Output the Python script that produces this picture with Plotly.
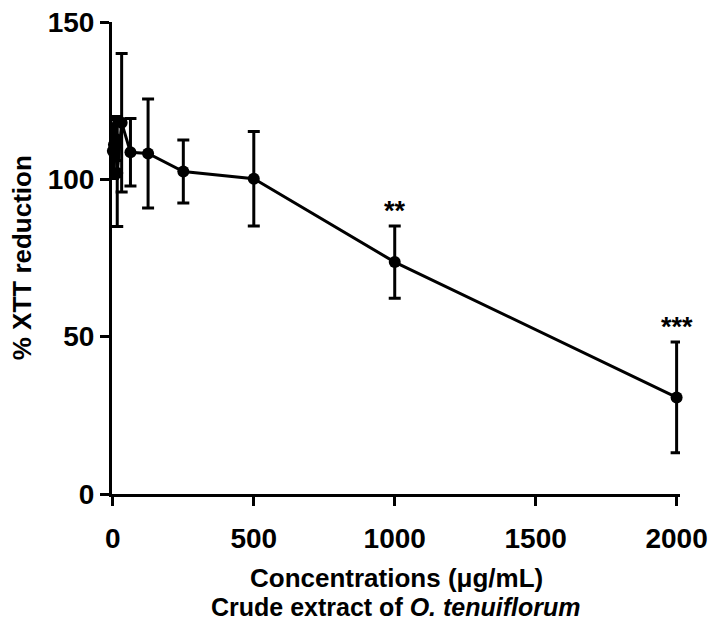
import plotly.graph_objects as go

conc = [0, 3.9, 7.8, 15.6, 31.25, 62.5, 125, 250, 500, 1000, 2000]
mean = [109, 111, 113, 102, 118, 108.6, 108.2, 102.5, 100.2, 73.7, 30.7]
err = [8.7, 8, 7, 17, 22, 10.7, 17.3, 10, 15, 11.5, 17.6]

sig_x = [1000, 2000]
sig_y = [85.2, 48.3]
sig_lbl = ["**", "***"]

x_ticks = [0, 500, 1000, 1500, 2000]
y_ticks = [0, 50, 100, 150]

FONT = "Liberation Sans, Arial, sans-serif"

fig = go.Figure()
fig.add_trace(go.Scatter(
    x=conc, y=mean, mode="lines+markers",
    line=dict(color="black", width=3),
    marker=dict(color="black", size=12),
    error_y=dict(type="data", array=err, visible=True, color="black",
                 thickness=3, width=6),
    cliponaxis=False, showlegend=False,
))

for x, y, t in zip(sig_x, sig_y, sig_lbl):
    fig.add_annotation(x=x, y=y, text=f"<b>{t}</b>", showarrow=False,
                       yshift=15, font=dict(size=27, color="black", family=FONT))

fig.add_annotation(xref="paper", yref="paper", x=0.5, y=-0.178,
                   yanchor="middle",
                   text="<b>Concentrations (μg/mL)</b>", showarrow=False,
                   font=dict(size=26, color="black", family=FONT))
fig.add_annotation(xref="paper", yref="paper", x=0.5, y=-0.239,
                   yanchor="middle",
                   text="<b>Crude extract of <i>O. tenuiflorum</i></b>", showarrow=False,
                   font=dict(size=25, color="black", family=FONT))
fig.add_annotation(xref="paper", yref="paper", x=-0.158, y=0.5,
                   xanchor="center", yanchor="middle", textangle=-90,
                   text="<b>% XTT reduction</b>", showarrow=False,
                   font=dict(size=26, color="black", family=FONT))

fig.update_layout(
    width=712, height=625,
    margin=dict(l=112, r=32, t=22, b=131),
    paper_bgcolor="white", plot_bgcolor="white",
    font=dict(family=FONT, color="black"),
    xaxis=dict(range=[-3, 2012], tickvals=x_ticks,
               ticktext=[f"<b>{v}</b>" for v in x_ticks],
               showgrid=False, zeroline=False, showline=True, automargin=False,
               linecolor="black", linewidth=3, ticks="outside",
               ticklen=9, tickwidth=3, tickcolor="black",
               ticklabelstandoff=8,
               tickfont=dict(size=28, family=FONT, color="black")),
    yaxis=dict(range=[0, 150], tickvals=y_ticks,
               ticktext=[f"<b>{v}</b>" for v in y_ticks],
               showgrid=False, zeroline=False, showline=True, automargin=False,
               linecolor="black", linewidth=3, ticks="outside",
               ticklen=9, tickwidth=3, tickcolor="black",
               tickfont=dict(size=28, family=FONT, color="black")),
)

fig.write_html("out.html", config={"displayModeBar": False},
               post_script="document.body.style.margin='0';document.body.style.padding='0';")
